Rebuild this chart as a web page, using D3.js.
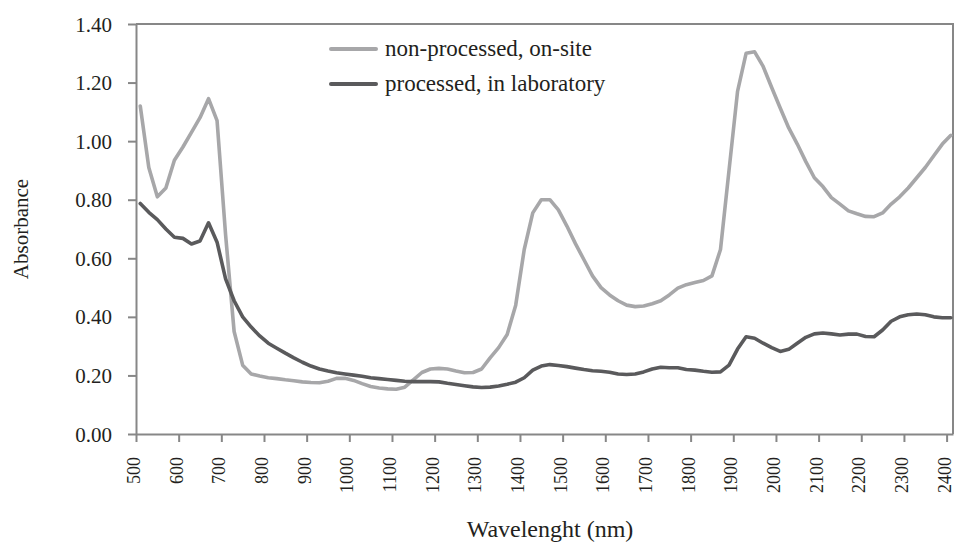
<!DOCTYPE html>
<html lang="en">
<head>
    <meta charset="UTF-8">
    <script src="https://d3js.org/d3.v7.min.js"></script>
    <title>Absorbance spectra</title>
    <style>
        body {
            margin: 0;
            padding: 0;
            background: #fff;
        }
        svg {
            display: block;
        }
        text {
            font-family: "Liberation Serif", "DejaVu Serif", serif;
            fill: #231f20;
        }
    </style>
</head>
<body>
<script>

    // wavelength (nm) of every sample
    var wavelength = [
        510, 530, 550, 570, 590, 610, 630, 650, 670, 690,
        710, 730, 750, 770, 790, 810, 830, 850, 870, 890,
        910, 930, 950, 970, 990, 1010, 1030, 1050, 1070, 1090,
        1110, 1130, 1150, 1170, 1190, 1210, 1230, 1250, 1270, 1290,
        1310, 1330, 1350, 1370, 1390, 1410, 1430, 1450, 1470, 1490,
        1510, 1530, 1550, 1570, 1590, 1610, 1630, 1650, 1670, 1690,
        1710, 1730, 1750, 1770, 1790, 1810, 1830, 1850, 1870, 1890,
        1910, 1930, 1950, 1970, 1990, 2010, 2030, 2050, 2070, 2090,
        2110, 2130, 2150, 2170, 2190, 2210, 2230, 2250, 2270, 2290,
        2310, 2330, 2350, 2370, 2390, 2410
    ]

    // non-processed, on-site
    var onSite = [
        1.12, 0.91, 0.81, 0.84, 0.935, 0.98, 1.03, 1.08, 1.145, 1.07,
        0.68, 0.35, 0.235, 0.205, 0.198, 0.192, 0.189, 0.185, 0.182, 0.178,
        0.176, 0.175, 0.18, 0.19, 0.19, 0.183, 0.172, 0.162, 0.157, 0.154,
        0.153, 0.16, 0.185, 0.21, 0.222, 0.224, 0.222, 0.215, 0.209, 0.21,
        0.222, 0.26, 0.295, 0.34, 0.44, 0.63, 0.755, 0.80, 0.80, 0.765,
        0.71, 0.65, 0.595, 0.54, 0.50, 0.475, 0.455, 0.44, 0.435, 0.437,
        0.445, 0.455, 0.475, 0.498, 0.51, 0.517, 0.524, 0.54, 0.63, 0.90,
        1.17, 1.30, 1.305, 1.255, 1.183, 1.113, 1.045, 0.99, 0.93, 0.875,
        0.845, 0.807, 0.785, 0.762, 0.752, 0.743, 0.742, 0.755, 0.785, 0.81,
        0.84, 0.875, 0.91, 0.95, 0.99, 1.02
    ]

    // processed, in laboratory
    var inLab = [
        0.787, 0.757, 0.732, 0.70, 0.672, 0.668, 0.649, 0.659, 0.721, 0.655,
        0.53, 0.455, 0.40, 0.365, 0.335, 0.31, 0.293, 0.276, 0.26, 0.245,
        0.232, 0.222, 0.215, 0.209, 0.205, 0.201, 0.197, 0.192, 0.189, 0.186,
        0.183, 0.18, 0.179, 0.179, 0.179, 0.178, 0.173, 0.169, 0.165, 0.161,
        0.159, 0.16, 0.164, 0.17, 0.177, 0.192, 0.218, 0.232, 0.237, 0.234,
        0.23, 0.225, 0.22, 0.216, 0.214, 0.211, 0.205, 0.203, 0.205, 0.212,
        0.222, 0.228, 0.226, 0.226, 0.22, 0.218, 0.214, 0.211, 0.212, 0.235,
        0.29, 0.332, 0.327, 0.31, 0.295, 0.282, 0.289, 0.31, 0.33, 0.342,
        0.345, 0.342, 0.338, 0.341, 0.341, 0.333, 0.332, 0.355, 0.385, 0.40,
        0.407, 0.41, 0.407, 0.40, 0.397, 0.397
    ]

    var xTicks = [500, 600, 700, 800, 900, 1000, 1100, 1200, 1300, 1400,
        1500, 1600, 1700, 1800, 1900, 2000, 2100, 2200, 2300, 2400]
    var yTicks = [0, 0.2, 0.4, 0.6, 0.8, 1.0, 1.2, 1.4]

    var seriesNames = ['non-processed, on-site', 'processed, in laboratory']
    var seriesColors = ['#a7a7a9', '#5a5a5c']

    var width = 955, height = 544
    var plotLeft = 136, plotRight = 953, plotTop = 24, plotBottom = 434
    var axisColor = '#878787'

    var svg = d3.select('body').append('svg')
        .attr('width', width)
        .attr('height', height)

    var x = d3.scaleLinear().domain([500, 2415]).range([plotLeft, plotRight])
    var y = d3.scaleLinear().domain([0, 1.4]).range([plotBottom, plotTop])

    // frame (top + right)
    svg.append('path')
        .attr('d', 'M' + plotLeft + ',' + plotTop + 'H' + plotRight + 'V' + plotBottom)
        .attr('fill', 'none')
        .attr('stroke', axisColor)
        .attr('stroke-width', 2)

    // y axis
    var yAxis = svg.append('g')
        .attr('transform', 'translate(' + plotLeft + ',0)')
        .call(d3.axisLeft(y).tickValues(yTicks).tickFormat(d3.format('.2f'))
            .tickSizeInner(8).tickSizeOuter(0).tickPadding(16))
    yAxis.selectAll('path, line').attr('stroke', axisColor).attr('stroke-width', 2)
    yAxis.selectAll('text')
        .style('font-size', '21px')
        .attr('dy', '0.34em')

    // x axis
    var xAxis = svg.append('g')
        .attr('transform', 'translate(0,' + plotBottom + ')')
        .call(d3.axisBottom(x).tickValues(xTicks).tickFormat(d3.format('d'))
            .tickSizeInner(8).tickSizeOuter(0))
    xAxis.selectAll('path, line').attr('stroke', axisColor).attr('stroke-width', 2)
    xAxis.selectAll('text')
        .style('font-size', '18px')
        .attr('transform', 'rotate(-90)')
        .attr('text-anchor', 'end')
        .attr('x', -23)
        .attr('y', 0)
        .attr('dy', '0.2em')

    // lines
    var series = [onSite, inLab]
    var line = d3.line()
        .x(function (d, i) { return x(wavelength[i]) })
        .y(function (d) { return y(d) })

    series.forEach(function (values, k) {
        svg.append('path')
            .datum(values)
            .attr('d', line)
            .attr('fill', 'none')
            .attr('stroke', seriesColors[k])
            .attr('stroke-width', 3.6)
            .attr('stroke-linejoin', 'round')
            .attr('stroke-linecap', 'round')
    })

    // legend
    var legend = svg.append('g')
    seriesNames.forEach(function (name, k) {
        var ly = 49 + k * 35
        legend.append('line')
            .attr('x1', 331).attr('x2', 376)
            .attr('y1', ly).attr('y2', ly)
            .attr('stroke', seriesColors[k])
            .attr('stroke-width', 4)
            .attr('stroke-linecap', 'round')
        legend.append('text')
            .attr('x', 385)
            .attr('y', ly)
            .attr('dy', '0.3em')
            .style('font-size', '23px')
            .text(name)
    })

    // axis titles
    svg.append('text')
        .attr('transform', 'translate(28,' + ((plotTop + plotBottom) / 2) + ') rotate(-90)')
        .attr('text-anchor', 'middle')
        .style('font-size', '21px')
        .text('Absorbance')

    svg.append('text')
        .attr('x', 550)
        .attr('y', 537)
        .attr('text-anchor', 'middle')
        .style('font-size', '24px')
        .text('Wavelenght (nm)')

</script>
</body>
</html>
